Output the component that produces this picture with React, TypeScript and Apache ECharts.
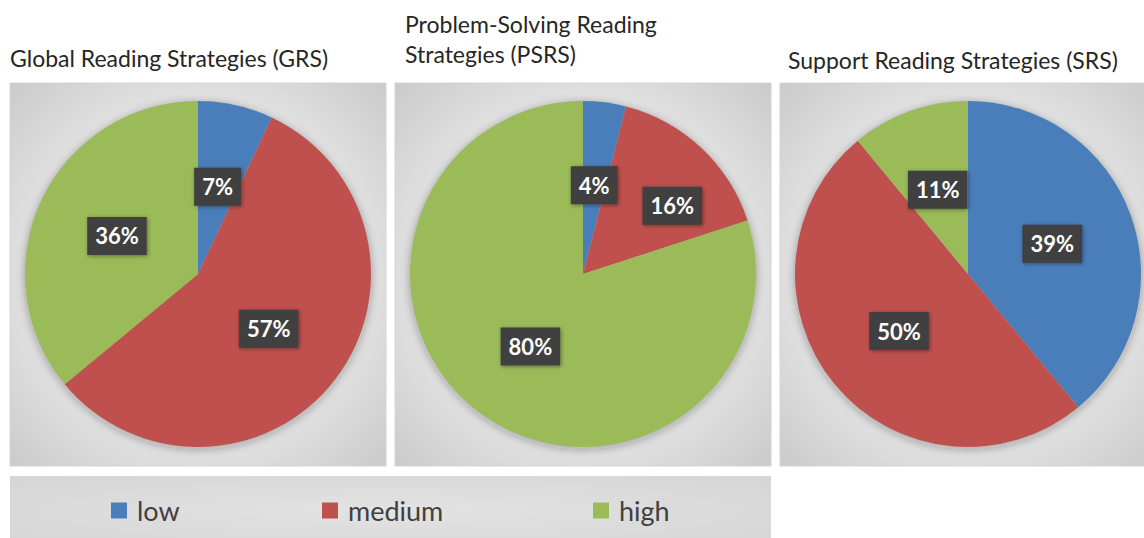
import React, { useEffect, useRef } from "react";
import * as echarts from "echarts";

// Shares (in %) of each strategy level, per strategy group
const levels = ["low", "medium", "high"];
const grsValues = [7, 57, 36];
const psrsValues = [4, 16, 80];
const srsValues = [39, 50, 11];
const chartTitles = [
  "Global Reading Strategies (GRS)",
  "Problem-Solving Reading\nStrategies (PSRS)",
  "Support Reading Strategies (SRS)",
];

const COLORS = ["#4a7ebb", "#c0504d", "#9bbb59"];
const FONT = "Lato, 'Open Sans', sans-serif";

const W = 1144;
const H = 538;
const PANEL_W = 376;
const PANEL_TOP = 83;
const PANEL_H = 383;
const PANEL_LEFTS = [10, 395, 780];
const PIE_R = 173;
const PIE_CY = 274;

// label nudges so neighbouring value boxes in narrow slices don't collide
const labelNudges: Record<string, number[]> = { "1-1": [28, -3] };

export default function App() {
  const ref = useRef<HTMLDivElement>(null);

  useEffect(() => {
    if (!ref.current) return;
    const chart = echarts.init(ref.current, null, { renderer: "svg" });

    const groups = [grsValues, psrsValues, srsValues];
    const centersX = PANEL_LEFTS.map((l) => l + PANEL_W / 2);

    const panelFill = () =>
      new echarts.graphic.RadialGradient(0.5, 0.5, 0.72, [
        { offset: 0, color: "#fafafa" },
        { offset: 0.55, color: "#e6e6e6" },
        { offset: 1, color: "#c9c9c9" },
      ]);

    const graphics: any[] = [];
    PANEL_LEFTS.forEach((left, i) => {
      graphics.push({
        type: "rect",
        z: -10,
        shape: { x: left, y: PANEL_TOP, width: PANEL_W, height: PANEL_H },
        style: { fill: panelFill(), stroke: "#d4d4d4", lineWidth: 1 },
        silent: true,
      });
      // soft halo under each pie
      graphics.push({
        type: "circle",
        z: -5,
        shape: { cx: centersX[i], cy: PIE_CY + 2, r: PIE_R },
        style: {
          fill: "#bdbdbd",
          shadowBlur: 10,
          shadowColor: "rgba(0,0,0,0.35)",
        },
        silent: true,
      });
    });
    // legend band
    graphics.push({
      type: "rect",
      z: -10,
      shape: { x: 10, y: 476, width: 761, height: 70 },
      style: {
        fill: new echarts.graphic.RadialGradient(0.5, 0.5, 0.8, [
          { offset: 0, color: "#e3e3e3" },
          { offset: 1, color: "#d3d3d3" },
        ]),
      },
      silent: true,
    });

    const legendLefts = [111, 322, 593];

    chart.setOption({
      animation: false,
      backgroundColor: "#ffffff",
      color: COLORS,
      title: [
        { text: chartTitles[0], left: 10, top: 43 },
        { text: chartTitles[1], left: 405, top: 9 },
        { text: chartTitles[2], left: 788, top: 45 },
      ].map((t) => ({
        ...t,
        padding: 0,
        textStyle: {
          fontFamily: FONT,
          fontSize: 23,
          fontWeight: "normal",
          color: "#262626",
          lineHeight: 30,
        },
      })),
      legend: levels.map((name, i) => ({
        data: [name],
        left: legendLefts[i],
        top: 497,
        padding: 0,
        icon: "rect",
        itemWidth: 16,
        itemHeight: 16,
        selectedMode: false,
        textStyle: {
          fontFamily: FONT,
          fontSize: 27,
          color: "#404040",
          padding: [0, 0, 0, 5],
        },
      })),
      graphic: graphics,
      series: groups.map((vals, i) => ({
        type: "pie",
        center: [centersX[i], PIE_CY],
        radius: PIE_R,
        startAngle: 90,
        clockwise: true,
        silent: true,
        avoidLabelOverlap: false,
        labelLayout: { hideOverlap: false },
        data: vals.map((v, k) => {
          const nudge = labelNudges[`${i}-${k}`];
          return nudge
            ? { name: levels[k], value: v, label: { offset: nudge } }
            : { name: levels[k], value: v };
        }),
        itemStyle: { borderWidth: 0 },
        label: {
          show: true,
          position: "inside",
          formatter: "{c}%",
          fontFamily: FONT,
          fontSize: 22,
          fontWeight: "bold",
          color: "#ffffff",
          backgroundColor: "#3f3f3f",
          padding: [9, 8, 7, 8],
          shadowBlur: 4,
          shadowColor: "rgba(0,0,0,0.4)",
          shadowOffsetX: 1,
          shadowOffsetY: 1,
        },
        labelLine: { show: false },
      })),
    });

    return () => chart.dispose();
  }, []);

  return (
    <div
      ref={ref}
      style={{ position: "absolute", left: 0, top: 0, width: W, height: H }}
    />
  );
}
